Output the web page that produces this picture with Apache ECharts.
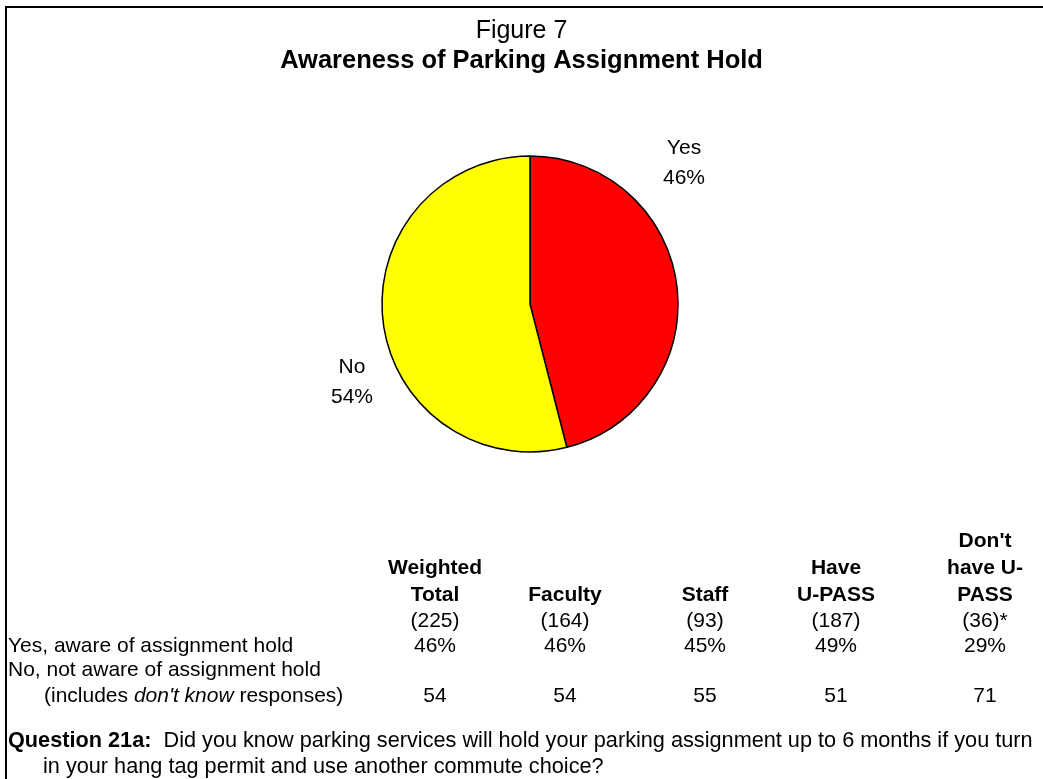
<!DOCTYPE html>
<html>
<head>
<meta charset="utf-8">
<script src="https://cdn.jsdelivr.net/npm/echarts@6/dist/echarts.min.js"></script>
<style>
html,body{margin:0;padding:0;background:#fff;}
#chart{width:1043px;height:779px;}
</style>
</head>
<body>
<div id="chart"></div>
<script>
// ---- data ----
const sliceNames = ['Yes', 'No'];
const sliceValues = [46, 54];
const sliceColors = ['#FF0000', '#FFFF00'];

const columnHeaders = [
  ['', 'Weighted', 'Total'],
  ['', '', 'Faculty'],
  ['', '', 'Staff'],
  ['', 'Have', 'U-PASS'],
  ["Don't", 'have U-', 'PASS']
];
const columnCounts = ['(225)', '(164)', '(93)', '(187)', '(36)*'];
const yesValues = ['46%', '46%', '45%', '49%', '29%'];
const noValues = ['54', '54', '55', '51', '71'];
const rowLabels = ['Yes, aware of assignment hold', 'No, not aware of assignment hold'];

const FONT = 'Liberation Sans, Arial, sans-serif';
const chart = echarts.init(document.getElementById('chart'));

const colX = [435, 565, 705, 836, 985];
const headerY = [541, 568, 595];
const countY = 621, yesY = 646, noLabelY = 670, noY = 696;
const tableFont = 21;

const graphics = [];
// frame
graphics.push({type:'line', shape:{x1:5, y1:7, x2:1043, y2:7}, style:{stroke:'#000', lineWidth:2}});
graphics.push({type:'line', shape:{x1:6, y1:6, x2:6, y2:779}, style:{stroke:'#000', lineWidth:2}});

function txt(x, y, t, font, align){
  graphics.push({type:'text', x:x, y:y, style:{text:t, font:font, fill:'#000', align:align||'center', verticalAlign:'middle'}});
}
const reg = tableFont+'px '+FONT, bold = 'bold '+tableFont+'px '+FONT;

columnHeaders.forEach((lines, c) => {
  lines.forEach((t, r) => { if (t) txt(colX[c], headerY[r], t, bold); });
  txt(colX[c], countY, columnCounts[c], reg);
  txt(colX[c], yesY, yesValues[c], reg);
  txt(colX[c], noY, noValues[c], reg);
});
txt(8, yesY, rowLabels[0], reg, 'left');
txt(8, noLabelY, rowLabels[1], reg, 'left');
graphics.push({type:'text', x: 44, y: noY,
  style:{text:'{n|(includes }{i|don\'t know}{n| responses)}', fill:'#000', align:'left', verticalAlign:'middle',
    rich:{n:{font:reg}, i:{font:'italic '+reg}}}});

// question
const qFont = 21.7;
graphics.push({type:'text', x: 8, y: 741,
  style:{text:'{b|Question 21a:}{n|  Did you know parking services will hold your parking assignment up to 6 months if you turn}',
    fill:'#000', align:'left', verticalAlign:'middle',
    rich:{n:{font:qFont+'px '+FONT}, b:{font:'bold '+qFont+'px '+FONT}}}});
txt(43, 767, 'in your hang tag permit and use another commute choice?', qFont+'px '+FONT, 'left');

const labelPos = [[684, 163], [352, 382]];

chart.setOption({
  backgroundColor:'#fff',
  animation:false,
  title:[
    {text:'Figure 7', left:'center', top:14, textStyle:{fontFamily:FONT, fontWeight:'normal', fontSize:25, color:'#000'}},
    {text:'Awareness of Parking Assignment Hold', left:'center', top:43, textStyle:{fontFamily:FONT, fontWeight:'bold', fontSize:25.5, color:'#000'}}
  ],
  series:[{
    type:'pie',
    center:[530, 304],
    radius:[0, 148],
    startAngle:90,
    clockwise:true,
    data: sliceNames.map((n,i)=>({name:n, value:sliceValues[i], itemStyle:{color:sliceColors[i]}})),
    itemStyle:{borderColor:'#000', borderWidth:1.5},
    label:{show:true, position:'outside', formatter:'{b}\n{d}%', fontFamily:FONT, fontSize:21, color:'#000', lineHeight:30, align:'center'},
    labelLine:{show:false},
    labelLayout:function(p){ return {x:labelPos[p.dataIndex][0], y:labelPos[p.dataIndex][1], align:'center', verticalAlign:'middle'}; },
    emphasis:{disabled:true}
  }],
  graphic: graphics
});
</script>
</body>
</html>
